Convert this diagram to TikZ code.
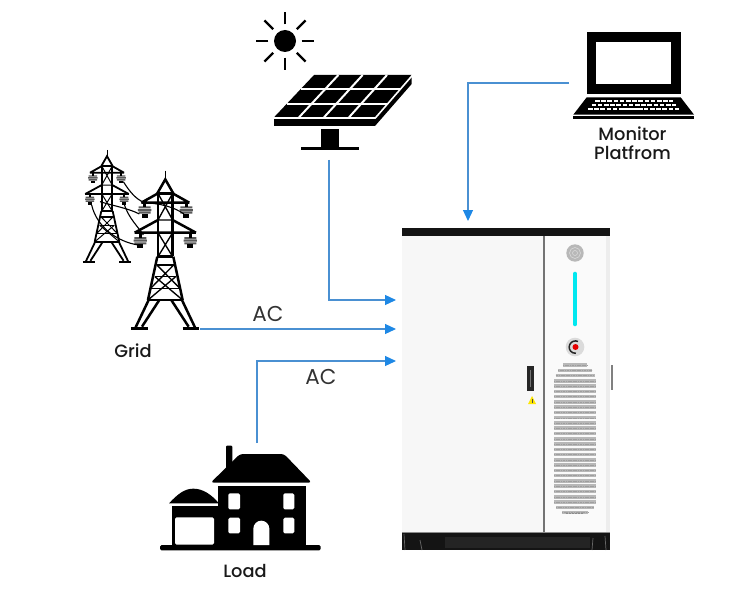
\documentclass[tikz,border=0pt]{standalone}
\usepackage{fontspec}
\setmainfont{Poppins}
\newfontfamily\captionfont{Poppins Medium}
\usetikzlibrary{arrows.meta,calc}
\definecolor{linkblue}{HTML}{4A90D2}
\definecolor{tipblue}{HTML}{1E88E5}
\definecolor{lampcyan}{HTML}{00E8F0}
\tikzset{
  link/.style={draw=linkblue,line width=1.2pt,-{Triangle[length=11pt,width=10pt,color=tipblue]}},
  caption/.style={font=\captionfont\fontsize{17.8}{20}\selectfont,text=black!90,align=center,inner sep=0pt},
  aclabel/.style={font=\fontsize{21.5}{24}\selectfont,text=black!80,inner sep=0pt},
  strut/.style={draw=black,line width=1.35pt*\pylonweight},
  thick strut/.style={draw=black,line width=2.5pt*\pylonweight},
  cable/.style={draw=black,line width=1.1pt},
}
\newcommand{\pylonweight}{1}
% One pylon, spike top at the origin, drawn on a grid three times finer than the picture
\newcommand{\pylon}{%
  \draw[strut] (0,0)--(0,26);
  \draw[thick strut] (-24,68)--(0,26)--(24,68);
  \draw[thick strut] (-22,68)--(-22,255) (22,68)--(22,255);
  \draw[thick strut] (-22,68)--(22,68);
  \draw[thick strut] (-72,96)--(72,96) (-22,68)--(-72,96) (22,68)--(72,96);
  \draw[thick strut] (-92,186)--(92,186) (-22,148)--(-92,186) (22,148)--(92,186);
  \draw[strut] (-22,68)--(22,148) (22,68)--(-22,148) (-22,148)--(22,148);
  \draw[strut] (-22,186)--(22,258) (22,186)--(-22,258);
  \draw[thick strut] (-24,258)--(24,258);
  \draw[thick strut] (-24,258)--(-52,388) (24,258)--(52,388);
  \draw[thick strut] (-25,283)--(25,283);
  \draw[strut] (-31,318)--(31,318) (-44,353)--(44,353);
  \draw[thick strut] (-52,388)--(52,388);
  \draw[strut] (-25,283)--(44,353) (25,283)--(-44,353) (-31,318)--(52,388) (31,318)--(-52,388);
  \draw[thick strut] (-50,388)--(-90,472) (50,388)--(90,472);
  \draw[thick strut] (-18,388)--(-70,468) (18,388)--(70,468);
  \draw[line width=3.2pt*\pylonweight] (-102,473)--(-52,473) (52,473)--(102,473);
}
% Stacked insulator hanging from a cross arm
\newcommand{\insulator}[1]{%
  \begin{scope}[shift={#1}]
    \fill[black!65] (-18,-11) rectangle (18,-5) (-20,-3) rectangle (20,3) (-18,5) rectangle (18,11);
    \fill[black] (-9,11) rectangle (9,23);
    \draw[thick strut] (0,-22)--(0,-9);
  \end{scope}}
\begin{document}
\begin{tikzpicture}[x=1pt,y=-1pt]
\useasboundingbox (0,0) rectangle (743,604);

% ---- sun and solar panel
\begin{scope}[shift={(240,0)},scale=1/3]
  \fill (135,123) circle (33);
  \foreach \a in {0,45,...,315}
    \draw[line width=2.4pt] ($(135,123)+(\a:50)$)--($(135,123)+(\a:87)$);
  \fill (102,352)--(222,225)--(515,225)--(515,252)--(405,378)--(102,378)--cycle;
  \foreach \k in {1,2,3}
    \draw[white,line width=2pt] ($(222,225)+(\k*73,0)$)--($(102,352)+(\k*75,0)$);
  \draw[white,line width=2pt] (184,268)--(480,268) (142,312)--(442,312);
  \draw[white,line width=1.6pt] (98,354)--(406,354)--(518,225);
  \fill (243,388) rectangle (298,442);
  \fill (183,440) rectangle (358,451);
\end{scope}
\node[minimum width=90pt,minimum height=90pt,inner sep=0pt] (solar) at (329,115) {};

% ---- laptop
\begin{scope}[shift={(560,20)},scale=1/3]
  \fill (80,37) rectangle (362,222);
  \fill[white] (108,65) rectangle (333,193);
  \fill (80,232)--(362,232)--(402,284)--(40,284)--cycle;
  \fill (40,288) rectangle (402,298);
  \draw[white,line width=1.9pt,dash pattern=on 4.6pt off 1.6pt] (105,243)--(340,243);
  \draw[white,line width=1.9pt,dash pattern=on 4.6pt off 1.6pt] (95,255)--(348,255);
  \draw[white,line width=1.9pt,dash pattern=on 4.6pt off 1.6pt] (84,267)--(356,267);
  \draw[white,line width=1.9pt] (190,267)--(248,267);
\end{scope}
\node[minimum width=120pt,minimum height=90pt,inner sep=0pt] (laptop) at (634,76) {};
\node[caption] (monitorlabel) at (632.5,143) {Monitor\\[-.5pt]Platfrom};

% ---- two pylons joined by cables
\begin{scope}[shift={(107,150)},scale=.71/3]
  \renewcommand{\pylonweight}{.72}
  \pylon
  \insulator{(-60,118)}\insulator{(60,118)}
  \insulator{(-72,208)}\insulator{(72,208)}
\end{scope}
\begin{scope}[shift={(165.3,170.7)},scale=1/3]
  \renewcommand{\pylonweight}{1}
  \pylon
  \insulator{(-62,118)}\insulator{(63,118)}
  \insulator{(-75,210)}\insulator{(75,210)}
\end{scope}
\begin{scope}[shift={(60,140)},scale=1/3]
  \draw[cable] (190,125) .. controls (212,160) and (230,178) .. (250,186);
  \draw[cable] (95,195) .. controls (110,260) and (170,305) .. (235,315);
  \draw[cable] (192,190) .. controls (205,235) and (235,260) .. (250,285);
  \draw[cable] (120,185) .. controls (170,200) and (205,205) .. (238,222);
  \draw[cable] (250,188) .. controls (300,190) and (340,200) .. (372,222);
\end{scope}
\node[minimum width=120pt,minimum height=180pt,inner sep=0pt] (grid) at (140,240) {};
\node[caption] (gridlabel) at (133,351) {Grid};

% ---- house
\begin{scope}[shift={(150,430)},scale=1/3]
  \fill[rounded corners=1.5pt] (30,345) rectangle (512,361);
  \fill (205,168) rectangle (467,350);
  \fill[rounded corners=1pt] (228,47) rectangle (247,125);
  \fill[rounded corners=3pt] (182,158)--(270,72)--(402,72)--(485,158)--cycle;
  \fill (57,220) .. controls (85,190) and (105,176) .. (130,176)
        .. controls (160,176) and (185,195) .. (205,218)--(205,220)--cycle;
  \fill (65,228) rectangle (205,350);
  \fill[white,rounded corners=1.5pt] (75,262) rectangle (192,344);
  \fill[white,rounded corners=1.5pt] (235,190) rectangle (270,238);
  \fill[white,rounded corners=1.5pt] (400,190) rectangle (433,238);
  \fill[white,rounded corners=1.5pt] (235,263) rectangle (270,310);
  \fill[white,rounded corners=1.5pt] (400,263) rectangle (433,310);
  \fill[white] (310,345)--(310,296) arc (180:360:24)--(358,345)--cycle;
\end{scope}
\node[minimum width=160pt,minimum height=100pt,inner sep=0pt] (house) at (240,500) {};
\node[caption] (loadlabel) at (245,571) {Load};

% ---- cabinet
\node[draw=none,fill=black!3,minimum width=208pt,minimum height=322pt,inner sep=0pt] (cabinet) at (506,389) {};
\fill[black!3] (402,236) rectangle (544,532);
\fill[black!2] (545,236) rectangle (606,532);
\fill[black!7] (606,236) rectangle (610,532);
\fill[black!92] (402,228) rectangle (610,236);
\fill[black!92] (402,532) rectangle (610,550);
\fill[black!86] (445,537) rectangle (590,548);
\draw[black!55,line width=1.2pt] (544,236)--(544,532);
\draw[black!45,line width=.6pt] (402,532)--(610,532);
\draw[black!60,line width=.7pt] (404,534)--(405,550) (420,540)--(422,550);
\draw[black!60,line width=.7pt] (593,538)--(592,550) (605,536)--(606,550);
\fill[black!50] (611,365) rectangle (612.6,390);
% status lamp, light strip, emergency stop
\fill[black!28] (575,253) circle (8.7);
\draw[black!15,line width=.6pt] (575,253) circle (5.5) (575,253) circle (2.5);
\draw[lampcyan,line width=4.6pt,line cap=round] (575,274)--(575,324);
\fill[black!14] (575,347) circle (9.3);
\draw[black!85,line width=1.5pt] (578,341.5) arc (-65:-275:6.2);
\fill[red!90!black] (575.5,347) circle (3);
% ventilation slots
\foreach \r in {0,...,28}{
  \pgfmathsetmacro{\yy}{365+\r*5.27}
  \pgfmathsetmacro{\hw}{\r<1 ? 12 : (\r<2 ? 17 : (\r<3 ? 19.5 : (\r>27 ? 13 : (\r>26 ? 19 : 21))))}
  \draw[black!28,line width=3.5pt] (575-\hw,\yy)--(575+\hw,\yy);
  \draw[black!38,line width=1pt,dash pattern=on 1.2pt off .5pt] (575-\hw,\yy+.3)--(575+\hw,\yy+.3);
}
\draw[black!45,line width=1pt,dash pattern=on 1.5pt off 1.5pt] (566,513.5)--(584,513.5);
% door handle and warning sign
\fill[black!85] (527,366) rectangle (534,391);
\fill[black!55] (530,370) rectangle (531,387);
\fill[yellow!90!orange] (532,396)--(536,404)--(528,404)--cycle;
\fill[black!70] (531.6,399) rectangle (532.4,402.5);

% ---- named ends of the connectors
\coordinate (solarOut) at (329,160);
\coordinate (gridOut) at (200,329);
\coordinate (houseOut) at (257,443);
\coordinate (laptopOut) at (569,83);
\coordinate (solarIn) at (396,300);
\coordinate (gridIn) at (396,329);
\coordinate (houseIn) at (396,361);
\coordinate (monitorIn) at (468,221);
\draw[link] (solarOut)|-(solarIn);
\draw[link] (gridOut)--(gridIn);
\draw[link] (houseOut)|-(houseIn);
\draw[link] (laptopOut)-|(monitorIn);
\node[aclabel] (acgrid) at (268,314) {AC};
\node[aclabel] (acload) at (321,377) {AC};
\end{tikzpicture}
\end{document}
